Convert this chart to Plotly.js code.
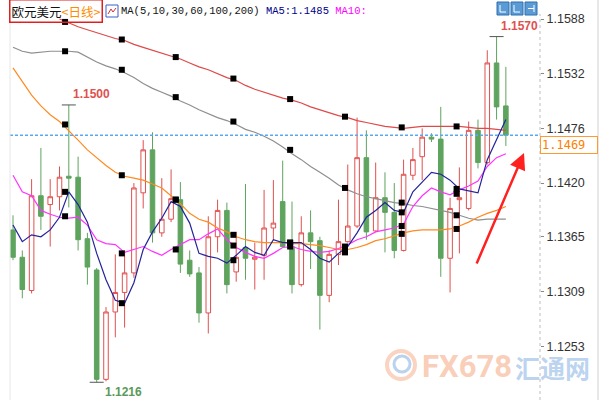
<!DOCTYPE html>
<html><head><meta charset="utf-8">
<script src="https://cdn.plot.ly/plotly-3.0.1.min.js"></script>
<style>html,body{margin:0;padding:0;background:#fff;}#chart{width:611px;height:400px;}</style>
</head><body><div id="chart"></div>
<script>
// ---- data (EUR/USD daily) ----
const open = [1.1372,1.1344,1.1310,1.1407,1.1398,1.1406,1.1427,1.1426,1.1363,1.1331,
1.1219,1.1288,1.1308,1.1328,1.1410,1.1454,1.1369,1.1383,1.1403,1.1341,
1.1328,1.1287,1.1365,1.1392,1.1329,1.1354,1.1342,1.1346,1.1374,1.1401,
1.1355,1.1316,1.1369,1.1361,1.1305,1.1347,1.1360,1.1376,1.1446,1.1371,
1.1405,1.1390,1.1351,1.1428,1.1447,1.1467,1.1465,1.1343,1.1403,1.1394,
1.1474,1.1441,1.1543,1.1499];
const high = [1.1387,1.1351,1.1424,1.1456,1.1424,1.1437,1.1500,1.1447,1.1369,1.1333,
1.1293,1.1347,1.1351,1.1420,1.1464,1.1472,1.1425,1.1434,1.1421,1.1351,
1.1334,1.1386,1.1403,1.1400,1.1370,1.1419,1.1359,1.1413,1.1423,1.1443,
1.1401,1.1386,1.1392,1.1365,1.1351,1.1403,1.1439,1.1487,1.1474,1.1441,
1.1431,1.1420,1.1444,1.1456,1.1476,1.1471,1.1498,1.1405,1.1436,1.1483,
1.1485,1.1556,1.1570,1.1539];
const low = [1.1341,1.1302,1.1307,1.1372,1.1355,1.1392,1.1395,1.1351,1.1316,1.1216,
1.1217,1.1262,1.1272,1.1323,1.1394,1.1359,1.1365,1.1380,1.1328,1.1324,
1.1277,1.1266,1.1349,1.1307,1.1319,1.1321,1.1311,1.1321,1.1362,1.1354,
1.1307,1.1314,1.1332,1.1270,1.1298,1.1336,1.1359,1.1374,1.1362,1.1370,
1.1349,1.1343,1.1350,1.1423,1.1423,1.1462,1.1324,1.1308,1.1348,1.1392,
1.1435,1.1439,1.1485,1.1458];
const close = [1.1344,1.1311,1.1407,1.1386,1.1406,1.1426,1.1425,1.1362,1.1334,1.1219,
1.1288,1.1308,1.1328,1.1415,1.1454,1.1369,1.1383,1.1404,1.1337,1.1327,
1.1287,1.1365,1.1392,1.1316,1.1344,1.1343,1.1344,1.1374,1.1379,1.1355,
1.1316,1.1369,1.1360,1.1305,1.1347,1.1360,1.1376,1.1446,1.1370,1.1405,
1.1390,1.1351,1.1429,1.1444,1.1467,1.1465,1.1343,1.1394,1.1405,1.1474,
1.1441,1.1543,1.1498,1.1469];

const ma5 = [1.1377,1.1360,1.1367,1.1365,1.1372,1.1385,1.1411,1.1398,1.1380,1.1348,
1.1321,1.1300,1.1297,1.1318,1.1352,1.1370,1.1384,1.1401,1.1396,1.1379,
1.1348,1.1345,1.1343,1.1338,1.1346,1.1355,1.1349,1.1346,1.1362,1.1359,
1.1359,1.1359,1.1352,1.1343,1.1339,1.1348,1.1355,1.1369,1.1385,1.1392,
1.1400,1.1392,1.1390,1.1411,1.1421,1.1431,1.1429,1.1423,1.1414,1.1412,
1.1410,1.1444,1.1464,1.1485];
const ma10 = [1.1428,1.1411,1.1407,1.1392,1.1388,1.1385,1.1384,1.1385,1.1377,1.1362,
1.1358,1.1357,1.1349,1.1352,1.1355,1.1350,1.1346,1.1352,1.1357,1.1362,
1.1362,1.1368,1.1373,1.1362,1.1354,1.1349,1.1345,1.1343,1.1348,1.1354,
1.1355,1.1352,1.1350,1.1349,1.1350,1.1353,1.1357,1.1362,1.1365,1.1370,
1.1372,1.1374,1.1378,1.1396,1.1407,1.1415,1.1411,1.1408,1.1413,1.1417,
1.1422,1.1437,1.1446,1.1450];
const ma30 = [1.1538,1.1524,1.1510,1.1499,1.1490,1.1483,1.1474,1.1464,1.1454,1.1446,
1.1438,1.1431,1.1427,1.1425,1.1423,1.1419,1.1415,1.1407,1.1399,1.1389,
1.1383,1.1380,1.1374,1.1370,1.1365,1.1362,1.1360,1.1359,1.1359,1.1359,
1.1358,1.1358,1.1357,1.1356,1.1354,1.1352,1.1352,1.1354,1.1357,1.1361,
1.1363,1.1366,1.1369,1.1371,1.1372,1.1372,1.1372,1.1373,1.1376,1.1380,
1.1385,1.1389,1.1392,1.1396];
const ma60 = [1.1559,1.1555,1.1553,1.1554,1.1555,1.1555,1.1555,1.1554,1.1549,1.1544,
1.1540,1.1537,1.1533,1.1528,1.1522,1.1517,1.1513,1.1509,1.1504,1.1500,
1.1495,1.1491,1.1487,1.1484,1.1480,1.1475,1.1472,1.1468,1.1463,1.1457,
1.1450,1.1444,1.1437,1.1431,1.1425,1.1418,1.1413,1.1409,1.1406,1.1404,
1.1402,1.1400,1.1399,1.1397,1.1396,1.1394,1.1392,1.1390,1.1387,1.1384,
1.1382,1.1383,1.1383,1.1383];
const ma100 = [null,null,null,null,null,1.1588,1.1584,1.1580,1.1577,1.1574,
1.1571,1.1568,1.1566,1.1562,1.1559,1.1556,1.1553,1.1550,1.1547,1.1543,
1.1539,1.1536,1.1532,1.1528,1.1525,1.1520,1.1516,1.1513,1.1510,1.1507,
1.1505,1.1502,1.1498,1.1495,1.1492,1.1489,1.1487,1.1484,1.1482,1.1480,
1.1478,1.1477,1.1476,1.1477,1.1478,1.1478,1.1478,1.1478,1.1478,1.1477,
1.1476,1.1476,1.1475,1.1474];

// node markers drawn on the MA lines (position along the day axis, and value)
const markDay = [6.6, 12.7, 18.5, 24.7, 30.8, 36.7, 42.8, 48.7];
const mark5   = [1.1411,1.1297,1.1403,1.1341,1.1359,1.1349,1.1390,1.1414];
const mark10  = [1.1386,1.1348,1.1352,1.1356,1.1355,1.1355,1.1376,1.1409];
const mark30  = [1.1480,1.1428,1.1403,1.1367,1.1359,1.1350,1.1368,1.1373];
const mark60  = [1.1555,1.1536,1.1508,1.1483,1.1454,1.1415,1.1400,1.1387];
const mark100 = [1.1585,1.1567,1.1549,1.1527,1.1506,1.1488,1.1477,1.1478];

const tickVals = [1.1253,1.1309,1.1365,1.1420,1.1476,1.1532,1.1588];
const tickText = ['1.1253','1.1309','1.1365','1.1420','1.1476','1.1532','1.1588'];
const highLabelDays = [7, 53];
const lowLabelDays = [10];

// ---- drawing ----
const day = open.map((_, i) => i + 1);
const L = 10, R = 540, T = 14, B = 400;
const px = x => (x - L) / (R - L);
const py = y => (B - y) / (B - T);

const traces = [];
traces.push({
  type: 'candlestick', x: day, open: open, high: high, low: low, close: close,
  increasing: {line: {color: '#e0504f', width: 1}, fillcolor: '#ffffff'},
  decreasing: {line: {color: '#5ea35e', width: 1}, fillcolor: '#5ea35e'},
  whiskerwidth: 0, hoverinfo: 'skip', showlegend: false
});
const maDefs = [[ma100, '#dd4a48'], [ma60, '#8f8f8f'], [ma30, '#ff8a1f'], [ma10, '#ff33ff'], [ma5, '#23239b']];
maDefs.forEach(([ys, c]) => traces.push({
  type: 'scatter', mode: 'lines', x: day, y: ys,
  line: {color: c, width: 1.2}, hoverinfo: 'skip', showlegend: false
}));
const allMarks = [mark100, mark60, mark30, mark10, mark5];
traces.push({
  type: 'scatter', mode: 'markers',
  x: allMarks.flatMap(() => markDay), y: allMarks.flat(),
  marker: {symbol: 'square', size: 6, color: '#000'}, hoverinfo: 'skip', showlegend: false
});
// high / low tick marks
const hlX = highLabelDays.concat(lowLabelDays);
const hlY = highLabelDays.map(d => high[d - 1]).concat(lowLabelDays.map(d => low[d - 1]));
traces.push({
  type: 'scatter', mode: 'markers', x: hlX, y: hlY,
  marker: {symbol: 'line-ew', size: 10, line: {color: '#555', width: 1}},
  hoverinfo: 'skip', showlegend: false
});

const last = close[close.length - 1];
const annotations = [];
highLabelDays.forEach(d => annotations.push({
  x: d, y: high[d - 1], xref: 'x', yref: 'y', text: high[d - 1].toFixed(4), showarrow: false,
  xanchor: 'left', yanchor: 'bottom', xshift: 2, yshift: 2,
  font: {family: 'Liberation Sans, Arial', size: 12, color: '#e0504f', weight: 'bold'}
}));
lowLabelDays.forEach(d => annotations.push({
  x: d, y: low[d - 1], xref: 'x', yref: 'y', text: low[d - 1].toFixed(4), showarrow: false,
  xanchor: 'left', yanchor: 'top', xshift: 6, yshift: -1,
  font: {family: 'Liberation Sans, Arial', size: 12, color: '#5a9a5a', weight: 'bold'}
}));
annotations.push({
  x: 1, y: last, xref: 'paper', yref: 'y', text: last.toFixed(4), showarrow: false,
  xanchor: 'left', yanchor: 'top', align: 'left', width: 54, yshift: -1,
  bgcolor: '#fff', bordercolor: '#ff9933', borderwidth: 1, borderpad: 1,
  font: {family: 'DejaVu Sans Mono, Liberation Mono, monospace', size: 12, color: '#ff8000'}
});
annotations.push({
  x: px(9), y: py(11), xref: 'paper', yref: 'paper', showarrow: false,
  xanchor: 'left', yanchor: 'middle',
  text: '欧元美元<span style="color:#ff8c00">&lt;日线&gt;</span>',
  bordercolor: '#e02020', borderwidth: 1.5, borderpad: 1,
  font: {family: 'Noto Sans CJK SC', size: 12.5, color: '#111'}
});
annotations.push({
  x: px(119), y: py(11), xref: 'paper', yref: 'paper', showarrow: false,
  xanchor: 'left', yanchor: 'middle',
  text: 'MA(5,10,30,60,100,200) <span style="color:#00008b">MA5:' + ma5[ma5.length - 1].toFixed(4) +
        '</span> <span style="color:#ff00ff">MA10:</span>',
  font: {family: 'Liberation Mono, DejaVu Sans Mono, monospace', size: 10.5, color: '#111'}
});
annotations.push({
  x: px(524), y: py(153), xref: 'paper', yref: 'paper', text: '',
  showarrow: true, ax: -48, ay: 112, arrowhead: 2, arrowsize: 1.3, arrowwidth: 2.5, arrowcolor: '#ff2020'
});
annotations.push({
  x: px(467), y: py(366), xref: 'paper', yref: 'paper', showarrow: false,
  xanchor: 'center', yanchor: 'middle',
  text: 'FX678', font: {family: 'Roboto, Liberation Sans', size: 31, color: 'rgba(245,165,125,0.55)', weight: 'bold'}
});
annotations.push({
  x: px(552), y: py(367), xref: 'paper', yref: 'paper', showarrow: false,
  xanchor: 'center', yanchor: 'middle',
  text: '汇通网', font: {family: 'Noto Sans CJK SC', size: 25, color: 'rgba(130,175,225,0.55)', weight: 'bold'}
});

const shapes = [
  {type: 'line', xref: 'paper', yref: 'y', x0: 0, x1: 1, y0: last, y1: last,
   line: {color: '#5aa9f0', width: 1.5, dash: '3px,2px'}},
  {type: 'line', xref: 'paper', yref: 'paper', x0: 1, x1: 1, y0: 0, y1: 1,
   line: {color: '#bdbdbd', width: 1, dash: 'dot'}},
  {type: 'line', xref: 'paper', yref: 'paper', x0: 0, x1: 0, y0: 0, y1: 1,
   line: {color: '#e6e6e6', width: 1}},
  {type: 'line', xref: 'paper', yref: 'paper', x0: px(598), x1: px(598), y0: py(400), y1: py(0),
   line: {color: '#d0d0d0', width: 1}},
  // indicator icon
  {type: 'rect', xref: 'paper', yref: 'paper', x0: px(106), x1: px(118), y0: py(17), y1: py(5),
   line: {color: '#3a5fc8', width: 1}, fillcolor: '#fff'},
  {type: 'path', xref: 'paper', yref: 'paper',
   path: `M ${px(108)} ${py(14)} L ${px(111)} ${py(9)} L ${px(113)} ${py(12)} L ${px(116)} ${py(8)}`,
   line: {color: '#d03030', width: 1}},
  // toolbar buttons
  {type: 'rect', xref: 'paper', yref: 'paper', x0: px(497), x1: px(509), y0: py(15), y1: py(2),
   line: {color: '#2f6fb0', width: 1}, fillcolor: '#5b9bd5'},
  {type: 'rect', xref: 'paper', yref: 'paper', x0: px(511), x1: px(523), y0: py(15), y1: py(2),
   line: {color: '#2f6fb0', width: 1}, fillcolor: '#5b9bd5'},
  {type: 'rect', xref: 'paper', yref: 'paper', x0: px(525), x1: px(537), y0: py(15), y1: py(2),
   line: {color: '#2f6fb0', width: 1}, fillcolor: '#5b9bd5'},
  {type: 'path', xref: 'paper', yref: 'paper',
   path: `M ${px(500)} ${py(5)} L ${px(500)} ${py(12)} L ${px(506)} ${py(12)} M ${px(514)} ${py(5)} L ${px(514)} ${py(12)} L ${px(520)} ${py(12)} M ${px(528)} ${py(8.5)} L ${px(534)} ${py(8.5)} M ${px(534)} ${py(5)} L ${px(534)} ${py(12)}`,
   line: {color: '#ffffff', width: 1}},
  // watermark logo
  {type: 'circle', xref: 'paper', yref: 'paper', x0: px(387), x1: px(415), y0: py(379), y1: py(351),
   line: {color: 'rgba(245,170,130,0.5)', width: 4}},
  {type: 'circle', xref: 'paper', yref: 'paper', x0: px(394), x1: px(410), y0: py(372), y1: py(356),
   line: {color: 'rgba(140,180,225,0.6)', width: 3}}
];

const layout = {
  width: 611, height: 400,
  margin: {l: L, r: 611 - R, t: T, b: 400 - B},
  paper_bgcolor: '#fff', plot_bgcolor: '#fff',
  showlegend: false,
  xaxis: {range: [0.677, 57.67], showgrid: false, zeroline: false, showline: false,
          showticklabels: false, ticks: '', rangeslider: {visible: false}, fixedrange: true},
  yaxis: {range: [1.119786, 1.159312], side: 'right', showgrid: false, zeroline: false, showline: false,
          tickmode: 'array', tickvals: tickVals, ticktext: tickText, ticks: 'outside', ticklen: 3,
          tickcolor: '#888', tickfont: {family: 'Liberation Sans, Arial', size: 12.5, color: '#333'},
          fixedrange: true},
  shapes: shapes, annotations: annotations
};
Plotly.newPlot('chart', traces, layout, {staticPlot: true, displayModeBar: false});
</script></body></html>
